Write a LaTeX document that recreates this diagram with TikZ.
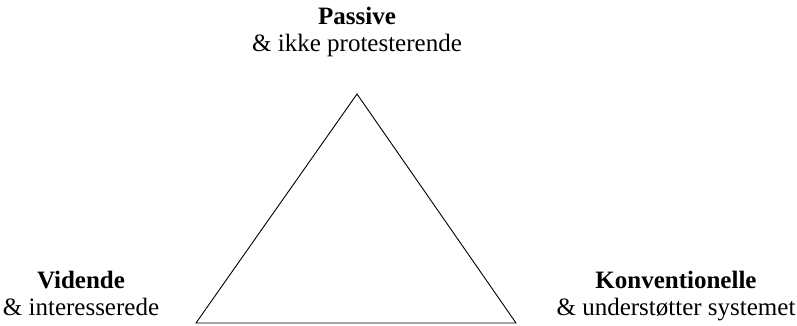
\documentclass[tikz,border=0pt]{standalone}
\usepackage{fontspec}
\setmainfont{Liberation Serif}
\begin{document}
\begin{tikzpicture}[x=1pt,y=-1pt,
  lbl/.style={inner sep=0pt,anchor=base,font=\fontsize{25}{30}\selectfont},
  hd/.style={lbl,font=\fontsize{25}{30}\selectfont\bfseries},
  edge/.style={draw=black,line width=0.9pt,line join=miter}]
\useasboundingbox (0,0) rectangle (797,326);
\coordinate (apex) at (357,94);
\coordinate (bl) at (196,323);
\coordinate (br) at (516,323);
\draw[edge] (apex) -- (br) -- (bl) -- cycle;
\node[hd] (p1) at (357,25) {Passive};
\node[lbl] (p2) at (357,52) {\& ikke protesterende};
\node[hd] (v1) at (81,288) {Vidende};
\node[lbl] (v2) at (81,315) {\& interesserede};
\node[hd] (k1) at (676,288) {Konventionelle};
\node[lbl] (k2) at (676,315) {\& understøtter systemet};
\end{tikzpicture}
\end{document}
